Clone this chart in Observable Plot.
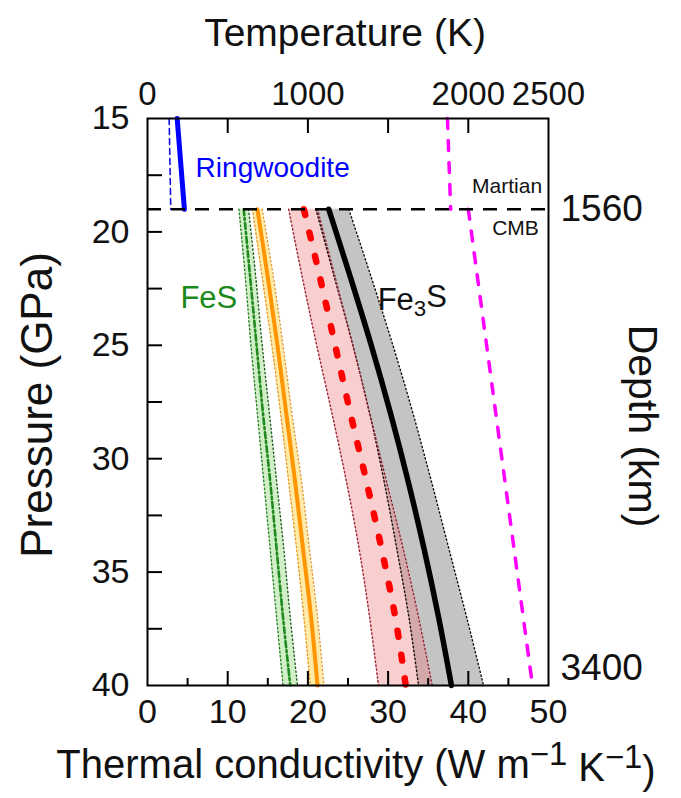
<!DOCTYPE html>
<html><head><meta charset="utf-8">
<script src="https://cdn.jsdelivr.net/npm/d3@7"></script>
<script src="https://cdn.jsdelivr.net/npm/@observablehq/plot@0.6"></script>
<style>
body{margin:0;background:#fff}
svg{font-family:"Liberation Sans",Arial,Helvetica,sans-serif;}
</style>
</head><body><div id="chart"></div><script>
// Pressure (GPa) sample points below the Martian CMB
const pressure = [19, 22, 25, 28, 31, 34, 37, 40];
// Fe3S (black) conductivity and its uncertainty band
const blackK  = [22.6, 25.3, 27.9, 30.3, 32.5, 34.5, 36.3, 37.9];
const blackLo = [21.0, 23.3, 25.6, 27.7, 29.5, 31.1, 32.6, 33.8];
const blackHi = [25.1, 27.9, 30.6, 33.1, 35.4, 37.6, 39.8, 41.9];
// red dashed series and band
const redK  = [19.5, 21.5, 23.4, 25.3, 27.3, 29.2, 30.9, 32.2];
const redLo = [17.6, 19.3, 21.1, 23.0, 24.8, 26.4, 27.7, 28.8];
const redHi = [21.2, 23.4, 25.6, 27.7, 29.8, 31.9, 33.8, 35.5];
// orange series and band
const orangeK  = [13.7, 15.0, 16.2, 17.3, 18.4, 19.4, 20.4, 21.2];
const orangeLo = [13.1, 14.3, 15.5, 16.6, 17.6, 18.6, 19.5, 20.3];
const orangeHi = [14.3, 15.7, 16.9, 18.0, 19.2, 20.2, 21.2, 22.0];
// FeS (green) series and band
const greenK  = [12.0, 12.8, 13.6, 14.4, 15.3, 16.1, 16.9, 17.8];
const greenLo = [11.4, 12.2, 12.9, 13.7, 14.5, 15.3, 16.1, 16.9];
const greenHi = [12.6, 13.5, 14.3, 15.2, 16.1, 17.0, 17.8, 18.7];
// Ringwoodite (mantle) conductivity
const ringP = [15, 19];
const ringK = [3.7, 4.6];
const ringK2 = [2.7, 2.9];
// Temperature profile (K), top axis
const mantleP = [15, 19];
const mantleT = [1870, 1890];
const coreP = [19, 40];
const coreT = [2000, 2400];
// CMB pressure and depth labels
const cmbP = 19;
const depthP = [19, 40];
const depthKm = ["1560", "3400"];
// tick values
const kTicks = [0, 10, 20, 30, 40, 50];
const kMinor = [5, 15, 25, 35, 45];
const tTicks = [0, 1000, 2000, 2500];
const tMarks = [500, 1000, 1500, 2000];
const pTicks = [15, 20, 25, 30, 35, 40];
const pMinor = [17.5, 20, 22.5, 25, 27.5, 30, 32.5, 35, 37.5];
const tPerK = 50; // 2500 K spans the same width as 50 W/m/K

const rows = pressure.map((P, i) => ({
  P, bk: blackK[i], bl: blackLo[i], bh: blackHi[i],
  rk: redK[i], rl: redLo[i], rh: redHi[i],
  ok: orangeK[i], ol: orangeLo[i], oh: orangeHi[i],
  gk: greenK[i], gl: greenLo[i], gh: greenHi[i]
}));
const ring = ringP.map((P, i) => ({P, k: ringK[i], k2: ringK2[i]}));
const mantle = mantleP.map((P, i) => ({P, T: mantleT[i]}));
const core = coreP.map((P, i) => ({P, T: coreT[i]}));

const dot = "1.4,2.6";
const cv = "catmull-rom";
const chart = Plot.plot({
  width: 681, height: 798,
  marginLeft: 147, marginRight: 133, marginTop: 118, marginBottom: 113,
  x: {domain: [0, 50], label: null},
  y: {domain: [15, 40], reverse: true, label: null},
  style: {fontFamily: '"Liberation Sans", Arial, sans-serif', background: "white"},
  marks: [
    // bands
    Plot.areaX(rows, {y: "P", x1: "bl", x2: "bh", fill: "#c4c4c4", curve: cv}),
    Plot.areaX(rows, {y: "P", x1: "rl", x2: "rh", fill: "#f07f7f", fillOpacity: 0.38, curve: cv}),
    Plot.areaX(rows, {y: "P", x1: "ol", x2: "oh", fill: "#ffe48a", fillOpacity: 0.75, curve: cv}),
    Plot.areaX(rows, {y: "P", x1: "gl", x2: "gh", fill: "#c6ebb8", fillOpacity: 0.8, curve: cv}),
    // band edges (dotted)
    Plot.line(rows, {x: "bl", y: "P", stroke: "#111", strokeWidth: 1.4, strokeDasharray: dot, curve: cv}),
    Plot.line(rows, {x: "bh", y: "P", stroke: "#111", strokeWidth: 1.4, strokeDasharray: dot, curve: cv}),
    Plot.line(rows, {x: "rl", y: "P", stroke: "#9b2335", strokeWidth: 1.4, strokeDasharray: dot, curve: cv}),
    Plot.line(rows, {x: "rh", y: "P", stroke: "#9b2335", strokeWidth: 1.4, strokeDasharray: dot, curve: cv}),
    Plot.line(rows, {x: "ol", y: "P", stroke: "#e0952a", strokeWidth: 1.3, strokeDasharray: dot, curve: cv}),
    Plot.line(rows, {x: "oh", y: "P", stroke: "#e0952a", strokeWidth: 1.3, strokeDasharray: dot, curve: cv}),
    Plot.line(rows, {x: "gl", y: "P", stroke: "#1f7a1f", strokeWidth: 1.3, strokeDasharray: dot, curve: cv}),
    Plot.line(rows, {x: "gh", y: "P", stroke: "#1f5f1f", strokeWidth: 1.4, strokeDasharray: dot, curve: cv}),
    // central curves
    Plot.line(rows, {x: "gk", y: "P", stroke: "#1f8a1f", strokeWidth: 2.6, strokeDasharray: "6,3,2,3", curve: cv}),
    Plot.line(rows, {x: "ok", y: "P", stroke: "#ff9500", strokeWidth: 4, curve: cv}),
    Plot.line(rows, {x: "bk", y: "P", stroke: "black", strokeWidth: 5.5, curve: cv}),
    Plot.line(rows, {x: "rk", y: "P", stroke: "#ff0000", strokeWidth: 6.5, strokeDasharray: "6,18", strokeLinecap: "round", curve: cv}),
    // ringwoodite
    Plot.line(ring, {x: "k2", y: "P", stroke: "#1010e0", strokeWidth: 1.6, strokeDasharray: "6,4"}),
    Plot.line(ring, {x: "k", y: "P", stroke: "#0000ff", strokeWidth: 5}),
    // temperature profiles
    Plot.line(mantle, {x: d => d.T / tPerK, y: "P", stroke: "#ff00ff", strokeWidth: 3.5, strokeDasharray: "10,12"}),
    Plot.line(core, {x: d => d.T / tPerK, y: "P", stroke: "#ff00ff", strokeWidth: 3.5, strokeDasharray: "10,12"}),
    // CMB
    Plot.ruleY([cmbP], {stroke: "black", strokeWidth: 2.5, strokeDasharray: "14,10"}),
    Plot.frame({stroke: "black", strokeWidth: 2}),
    // labels
    Plot.text(["Ringwoodite"], {x: 6.0, y: 17.2, text: d => d, textAnchor: "start", fill: "#0000ff", fontSize: 28}),
    Plot.text(["FeS"], {x: 4.1, y: 22.9, text: d => d, textAnchor: "start", fill: "#1a8a1a", fontSize: 31}),
    Plot.text(["Fe3S"], {x: 28.7, y: 23.0, text: d => d, textAnchor: "start", fill: "#111", fontSize: 31}),
    Plot.text(["Martian"], {x: 49.2, y: 18.0, text: d => d, textAnchor: "end", fill: "#111", fontSize: 21}),
    Plot.text(["CMB"], {x: 48.8, y: 19.85, text: d => d, textAnchor: "end", fill: "#111", fontSize: 21}),
    Plot.text([depthKm[0]], {y: depthP[0], frameAnchor: "right", text: d => d, dx: 12, textAnchor: "start", lineAnchor: "middle", fontSize: 37, fill: "#111"}),
    Plot.text([depthKm[1]], {y: depthP[1], frameAnchor: "right", text: d => d, dx: 12, dy: -17, textAnchor: "start", lineAnchor: "middle", fontSize: 37, fill: "#111"}),
    // axes: bottom
    Plot.axisX(kTicks, {anchor: "bottom", tickSize: 0, tickPadding: 13, fontSize: 34, label: null, fill: "#111"}),
    Plot.axisX(kTicks.slice(1, -1), {anchor: "bottom", tickSize: -14, fill: "none", stroke: "black", strokeWidth: 2, label: null}),
    Plot.axisX(kMinor, {anchor: "bottom", tickSize: -7, fill: "none", stroke: "black", strokeWidth: 2, label: null}),
    // axes: top (temperature)
    Plot.axisX(tTicks.map(t => t / tPerK), {anchor: "top", tickSize: 0, tickPadding: 14, fontSize: 33, label: null, fill: "#111", tickFormat: d => String(Math.round(d * tPerK))}),
    Plot.axisX(tMarks.map(t => t / tPerK), {anchor: "top", tickSize: -14, fill: "none", stroke: "black", strokeWidth: 2, label: null}),
    // axes: left
    Plot.axisY(pTicks, {anchor: "left", tickSize: 0, tickPadding: 18, fontSize: 34, label: null, fill: "#111"}),
    Plot.axisY(pMinor, {anchor: "left", tickSize: -15, fill: "none", stroke: "black", strokeWidth: 2, label: null}),
    // titles
    Plot.text(["Temperature (K)"], {frameAnchor: "top", text: d => d, dx: -3, dy: -85, textAnchor: "middle", lineAnchor: "middle", fontSize: 39, fill: "#111"}),
    Plot.text(["Thermal conductivity (W m-1 K-1)"], {frameAnchor: "bottom", text: d => d, dx: 8, dy: 80, textAnchor: "middle", lineAnchor: "middle", fontSize: 40, fill: "#111"}),
    Plot.text(["Pressure (GPa)"], {frameAnchor: "left", text: d => d, dx: -110, dy: 3, textAnchor: "middle", lineAnchor: "middle", rotate: -90, fontSize: 44, fill: "#111"}),
    Plot.text(["Depth (km)"], {frameAnchor: "right", text: d => d, dx: 94, dy: 24, textAnchor: "middle", lineAnchor: "middle", rotate: 90, fontSize: 41, fill: "#111"})
  ]
});
document.getElementById("chart").appendChild(chart);

// sub/superscripts as real text tspans
const svg = d3.select(chart);
svg.selectAll("text").filter(function() { return this.textContent === "Fe3S"; }).each(function() {
  const t = d3.select(this).text(null);
  t.append("tspan").text("Fe");
  t.append("tspan").attr("dy", "0.28em").attr("font-size", "72%").text("3");
  t.append("tspan").attr("dy", "-0.28em").text("S");
});
svg.selectAll("text").filter(function() { return this.textContent === "Thermal conductivity (W m-1 K-1)"; }).each(function() {
  const t = d3.select(this).text(null);
  t.append("tspan").text("Thermal conductivity (W m");
  t.append("tspan").attr("dy", "-0.4em").attr("font-size", "82%").text("\u22121");
  t.append("tspan").attr("dy", "0.4em").text(" K");
  t.append("tspan").attr("dy", "-0.4em").attr("font-size", "82%").text("\u22121");
  t.append("tspan").attr("dy", "0.4em").text(")");
});
</script></body></html>
